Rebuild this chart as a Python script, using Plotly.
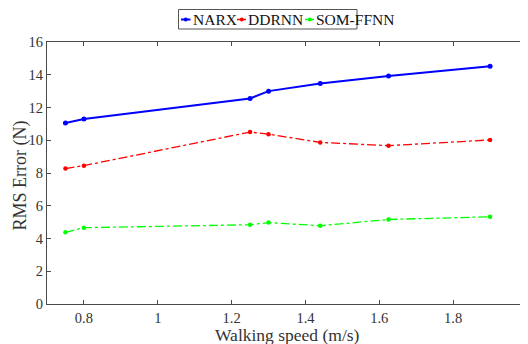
import plotly.graph_objects as go

speed = [0.75, 0.8, 1.25, 1.3, 1.44, 1.625, 1.9]
narx = [11.05, 11.3, 12.55, 13.0, 13.47, 13.93, 14.52]
ddrnn = [8.27, 8.45, 10.5, 10.37, 9.87, 9.67, 10.02]
somffnn = [4.38, 4.66, 4.84, 4.97, 4.78, 5.16, 5.33]

series_names = ["NARX", "DDRNN", "SOM-FFNN"]
series_colors = ["#0000ff", "#ff0000", "#00ff00"]

xticks = [0.8, 1, 1.2, 1.4, 1.6, 1.8, 2]
xticklabels = ["0.8", "1", "1.2", "1.4", "1.6", "1.8", "2"]
yticks = [0, 2, 4, 6, 8, 10, 12, 14, 16]

x_title = "Walking speed (m/s)"
y_title = "RMS Error (N)"

FONT = "Liberation Serif, Times New Roman, DejaVu Serif, serif"
AX = "#4a4a4a"
TXT = "#333333"

# page body has an 8px default margin, so the figure is offset by 8px
OFF = 8
W, H = 528 - OFF, 344 - OFF
L, R, T, B = 47 - OFF, 1, 42 - OFF, 40
PW, PH = W - L - R, H - T - B


def px(x):
    return (x - OFF - L) / PW


def py(y):
    return (H - B - (y - OFF)) / PH


fig = go.Figure()
fig.add_trace(go.Scatter(x=speed, y=narx, name=series_names[0], mode="lines+markers",
                         line=dict(color=series_colors[0], width=2),
                         marker=dict(size=5, color=series_colors[0])))
fig.add_trace(go.Scatter(x=speed, y=ddrnn, name=series_names[1], mode="lines+markers",
                         line=dict(color=series_colors[1], width=1.3, dash="dashdot"),
                         marker=dict(size=4.5, color=series_colors[1])))
fig.add_trace(go.Scatter(x=speed, y=somffnn, name=series_names[2], mode="lines+markers",
                         line=dict(color=series_colors[2], width=1.3, dash="dashdot"),
                         marker=dict(size=4.5, color=series_colors[2])))

axis_common = dict(showgrid=False, zeroline=False, showline=True, linecolor=AX,
                   linewidth=1, mirror="ticks", ticks="inside", ticklen=4,
                   tickcolor=AX, automargin=False, ticklabeloverflow="allow",
                   tickfont=dict(family=FONT, size=14.5, color=TXT))

# compact legend (box, sample lines, labels)
shapes = [dict(type="rect", xref="paper", yref="paper",
               x0=px(178.5), x1=px(357), y0=py(9.5), y1=py(29),
               line=dict(color="#555", width=1), fillcolor="white", layer="above")]
annotations = []
sample_x = [181, 237, 305]
text_x = [190.5, 246, 314]
ymid = 19.5
for i, (nm, col) in enumerate(zip(series_names, series_colors)):
    shapes.append(dict(type="line", xref="paper", yref="paper",
                       x0=px(sample_x[i]), x1=px(sample_x[i] + 9.5), y0=py(ymid), y1=py(ymid),
                       line=dict(color=col, width=2 if i == 0 else 1.3,
                                 dash="solid" if i == 0 else "dot"), layer="above"))
    cx = sample_x[i] + 4.75
    shapes.append(dict(type="circle", xref="paper", yref="paper",
                       x0=px(cx - 2), x1=px(cx + 2), y0=py(ymid - 2), y1=py(ymid + 2),
                       line=dict(color=col, width=0), fillcolor=col, layer="above"))
    annotations.append(dict(text=nm, xref="paper", yref="paper", x=px(text_x[i]), y=py(ymid),
                            xanchor="left", yanchor="middle", showarrow=False,
                            font=dict(family=FONT, size=15.5, color="#111")))

# axis titles
annotations.append(dict(text=x_title, xref="paper", yref="paper", x=0.5, y=py(334.5),
                        xanchor="center", yanchor="middle", showarrow=False,
                        font=dict(family=FONT, size=17.5, color=TXT)))
annotations.append(dict(text=y_title, xref="paper", yref="paper", x=px(19.5), y=py(176),
                        xanchor="center", yanchor="middle", showarrow=False, textangle=-90,
                        font=dict(family=FONT, size=18, color=TXT)))

fig.update_layout(
    width=W, height=H,
    margin=dict(l=L, r=R, t=T, b=B),
    plot_bgcolor="white", paper_bgcolor="white",
    font=dict(family=FONT, color=TXT),
    xaxis=dict(range=[0.7, 2], tickvals=xticks, ticktext=xticklabels,
               ticklabelstandoff=1, **axis_common),
    yaxis=dict(range=[0, 16], tickvals=yticks, **axis_common),
    showlegend=False,
    shapes=shapes,
    annotations=annotations,
)

fig.write_html("out.html")
